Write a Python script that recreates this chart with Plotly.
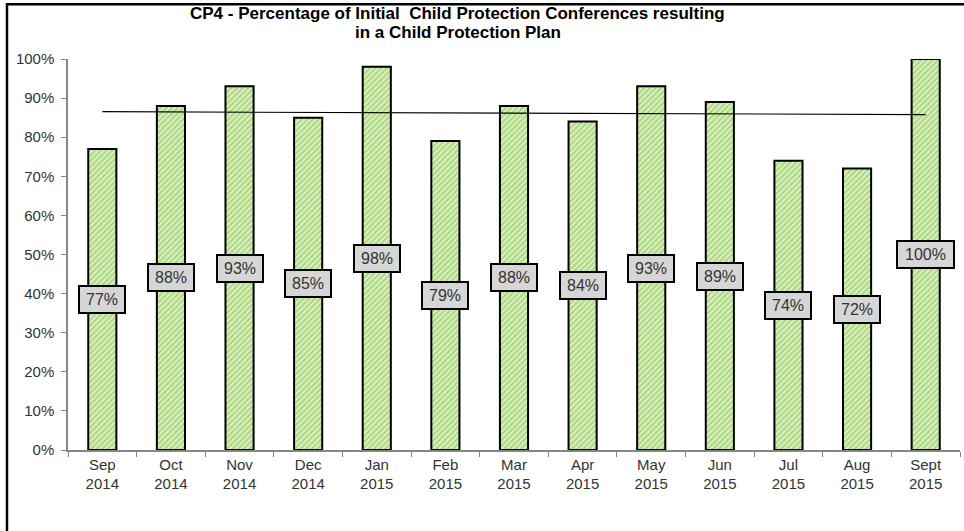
import numpy as np
import plotly.graph_objects as go

# Monthly CP4 figures
months = ["Sep<br>2014", "Oct<br>2014", "Nov<br>2014", "Dec<br>2014", "Jan<br>2015",
          "Feb<br>2015", "Mar<br>2015", "Apr<br>2015", "May<br>2015", "Jun<br>2015",
          "Jul<br>2015", "Aug<br>2015", "Sept<br>2015"]
percent = [77, 88, 93, 85, 98, 79, 88, 84, 93, 89, 74, 72, 100]
y_ticks = list(range(0, 101, 10))
y_tick_labels = [f"{t}%" for t in y_ticks]

title_lines = ["CP4 - Percentage of Initial  Child Protection Conferences resulting",
               "in a Child Protection Plan"]

FONT = "Liberation Sans, Arial, sans-serif"

# Linear trend across the period
idx = np.arange(len(percent))
slope, intercept = np.polyfit(idx, percent, 1)
trend = intercept + slope * idx

fig = go.Figure()

fig.add_trace(go.Bar(
    x=months, y=percent, width=0.41,
    marker=dict(
        color="#ffffff",
        line=dict(color="#000000", width=2),
        pattern=dict(shape="/", fgcolor="#78bd38", bgcolor="#dcf1c4",
                     size=4, solidity=0.5),
    ),
    cliponaxis=False,
    hoverinfo="skip",
))

fig.add_trace(go.Scatter(
    x=[months[0], months[-1]], y=[trend[0], trend[-1]],
    mode="lines", line=dict(color="#000000", width=1.2),
    hoverinfo="skip",
))

# Value labels in grey boxes at mid-height of each bar
for m, v in zip(months, percent):
    label = f"{v}%"
    fig.add_annotation(
        x=m, y=v / 2, text=label, showarrow=False,
        width=36 if len(label) <= 3 else 47,
        font=dict(family=FONT, size=16, color="#333333"),
        bgcolor="#d6d6d6", bordercolor="#000000", borderwidth=2, borderpad=4,
    )

# Two-line title
for line, ypos in zip(title_lines, [1.1176, 1.0665]):
    fig.add_annotation(
        xref="paper", yref="paper", x=0.437, y=ypos,
        xanchor="center", yanchor="middle", showarrow=False,
        text=f"<b>{line}</b>", borderpad=0,
        font=dict(family=FONT, size=17, color="#000000"),
    )

# Chart frame
fig.add_shape(type="rect", xref="paper", yref="paper",
              x0=-0.0684, x1=1.2, y0=-0.5, y1=1.14,
              line=dict(color="#000000", width=2.5), layer="above")

fig.update_layout(
    width=964, height=531,
    margin=dict(l=68, r=4, t=59, b=81),
    paper_bgcolor="#ffffff", plot_bgcolor="#ffffff",
    showlegend=False,
    bargap=0.59,
    font=dict(family=FONT, size=14, color="#333333"),
)

fig.update_xaxes(
    showline=True, linecolor="#868686", linewidth=1.5,
    ticks="outside", tickson="boundaries", ticklen=5, tickcolor="#868686",
    showgrid=False, tickfont=dict(family=FONT, size=15, color="#333333"),
)
fig.update_yaxes(
    range=[0, 100], tickvals=y_ticks, ticktext=y_tick_labels,
    showline=True, linecolor="#868686", linewidth=1.5,
    ticks="outside", ticklen=5, tickcolor="#868686",
    ticklabelstandoff=4,
    showgrid=False, zeroline=False,
    tickfont=dict(family=FONT, size=15, color="#333333"),
)

fig.write_html("out.html")
